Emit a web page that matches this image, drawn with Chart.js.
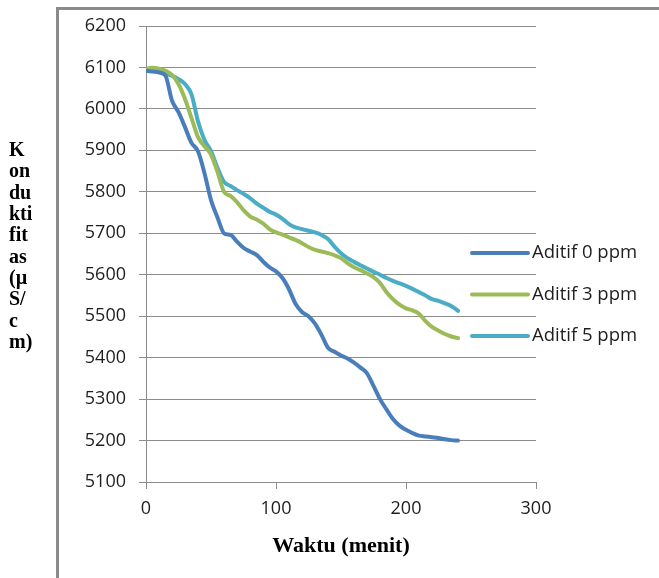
<!DOCTYPE html>
<html><head><meta charset="utf-8">
<script src="https://cdn.jsdelivr.net/npm/chart.js@4.4.0/dist/chart.umd.min.js"></script>
<style>html,body{margin:0;padding:0;background:#fff;} #wrap{width:659px;height:578px;position:relative;}</style>
</head><body><div id="wrap"><canvas id="c" width="659" height="578"></canvas></div>
<script>
const times = [0,5,10,15,20,25,30,35,40,45,50,55,60,65,70,75,80,85,90,95,100,105,110,115,120,125,130,135,140,145,150,155,160,165,170,175,180,185,190,195,200,205,210,215,220,225,230,235,240];
const aditif0 = [6092,6090,6088,6080,6020,5992,5956,5918,5898,5845,5780,5738,5700,5696,5680,5665,5656,5648,5632,5618,5608,5592,5565,5530,5510,5500,5482,5455,5424,5414,5405,5398,5388,5376,5362,5332,5300,5275,5252,5236,5226,5218,5212,5210,5208,5206,5203,5201,5200];
const aditif3 = [6097,6099,6097,6092,6082,6060,6024,5978,5932,5910,5890,5848,5800,5790,5775,5756,5741,5733,5724,5710,5702,5697,5690,5684,5676,5667,5660,5656,5652,5647,5640,5628,5618,5611,5603,5594,5580,5558,5541,5528,5519,5514,5506,5488,5474,5465,5457,5451,5447];
const aditif5 = [6092,6092,6092,6086,6080,6072,6060,6035,5970,5925,5898,5858,5824,5814,5804,5795,5785,5772,5762,5752,5745,5735,5722,5714,5710,5706,5702,5696,5686,5668,5652,5640,5631,5623,5615,5607,5600,5592,5585,5579,5573,5566,5558,5550,5541,5537,5531,5524,5513];
const seriesNames = ['Aditif 0 ppm','Aditif 3 ppm','Aditif 5 ppm'];
const seriesColors = ['#4a7ebb','#9bbb59','#4bacc6'];
const xMin = 0, xMax = 300, xStep = 100;
const yMin = 5100, yMax = 6200, yStep = 100;
const yTitleLines = ['K','on','du','kti','fit','as','(\u00b5','S/','c','m)'];
const xTitle = 'Waktu (menit)';

const toPts = vals => vals.map((v,i)=>({x:times[i], y:v}));
const seriesValues = [aditif0, aditif3, aditif5];

const gridCol = '#8c8c8c';
const tickFont = {family:'Open Sans', size:18};

const framePlugin = {
  id:'frame',
  beforeDraw(chart){
    const ctx = chart.ctx;
    ctx.save();
    ctx.strokeStyle = '#8a8a8a';
    ctx.lineWidth = 3;
    ctx.beginPath();
    ctx.moveTo(57.5, 600); ctx.lineTo(57.5, 8.5); ctx.lineTo(700, 8.5);
    ctx.stroke();
    ctx.restore();
  }
};
const yTitlePlugin = {
  id:'ytitle',
  afterDraw(chart){
    const ctx = chart.ctx;
    ctx.save();
    ctx.fillStyle = '#000';
    ctx.font = 'bold 20px "Liberation Serif"';
    ctx.textAlign = 'left';
    ctx.textBaseline = 'middle';
    yTitleLines.forEach((t,i)=>ctx.fillText(t, 9, 151 + i*21.3));
    ctx.restore();
  }
};
const legendPlugin = {
  id:'customLegend',
  afterDraw(chart){
    const ctx = chart.ctx;
    const a = chart.chartArea;
    ctx.save();
    chart.data.datasets.forEach((ds,i)=>{
      const y = 253 + i*41.5;
      const x0 = a.right - 64;
      ctx.strokeStyle = ds.borderColor;
      ctx.lineWidth = 4;
      ctx.lineCap = 'round';
      ctx.beginPath(); ctx.moveTo(x0, y); ctx.lineTo(x0+56, y); ctx.stroke();
      ctx.fillStyle = '#1e1e1e';
      ctx.font = '18.5px "Open Sans"';
      ctx.textAlign = 'left';
      ctx.textBaseline = 'middle';
      ctx.fillText(ds.label, x0+60, y);
    });
    ctx.restore();
  }
};

new Chart(document.getElementById('c'), {
  type:'line',
  data:{
    datasets: seriesNames.map((n,i)=>({
      label:n,
      data:toPts(seriesValues[i]),
      borderColor:seriesColors[i],
      backgroundColor:seriesColors[i],
      borderWidth:4,
      pointRadius:0,
      tension:0.4,
      cubicInterpolationMode:'monotone',
      borderCapStyle:'round',
      borderJoinStyle:'round',
      fill:false
    }))
  },
  options:{
    responsive:false,
    animation:false,
    layout:{padding:{top:26,right:123,bottom:0,left:0}},
    plugins:{legend:{display:false}, tooltip:{enabled:false}},
    scales:{
      x:{
        type:'linear', min:xMin, max:xMax,
        ticks:{stepSize:xStep, font:tickFont, color:'#1e1e1e', padding:9, maxRotation:0, callback:v=>String(v)},
        grid:{drawOnChartArea:false, tickLength:7, color:gridCol},
        border:{color:gridCol, width:1},
        title:{display:true, text:xTitle, color:'#000', font:{family:'Liberation Serif', weight:'bold', size:22}, padding:{top:4,bottom:18}},
        afterFit(s){ s.height = 96; }
      },
      y:{
        min:yMin, max:yMax,
        ticks:{stepSize:yStep, font:tickFont, color:'#1e1e1e', padding:13, callback:v=>String(v)},
        grid:{color:gridCol, tickLength:7},
        border:{color:gridCol, width:1},
        afterFit(s){ s.width = 146; }
      }
    }
  },
  plugins:[framePlugin, yTitlePlugin, legendPlugin]
});
</script></body></html>
